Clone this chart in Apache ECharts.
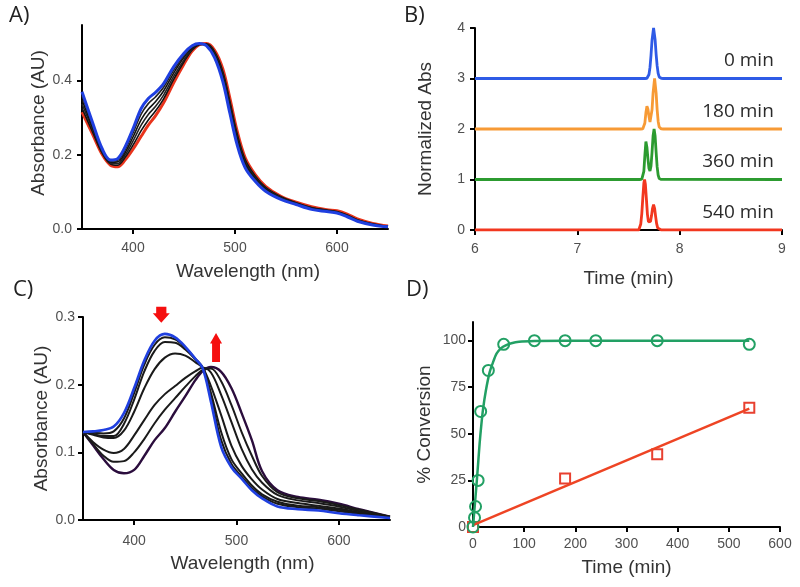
<!DOCTYPE html>
<html><head><meta charset="utf-8">
<script src="https://cdn.jsdelivr.net/npm/echarts@6/dist/echarts.min.js"></script>
<style>html,body{margin:0;padding:0;background:#fff}#c{width:800px;height:587px}</style>
</head><body><div id="c"></div>
<script>
// ---------- Panel A: UV-vis spectra (wavelength, absorbance) ----------
const wlA = [350,360,370,378,385,392,400,408,415,422,430,440,450,458,465,472,480,488,495,502,510,520,530,545,560,575,590,600,610,620,635,650];
const absA_red  = [0.315,0.258,0.200,0.172,0.168,0.185,0.215,0.250,0.280,0.305,0.340,0.395,0.445,0.480,0.497,0.500,0.482,0.432,0.352,0.265,0.192,0.146,0.115,0.088,0.072,0.060,0.052,0.049,0.040,0.027,0.015,0.008];
const absA_k4   = [0.326,0.264,0.203,0.175,0.172,0.192,0.226,0.265,0.294,0.318,0.351,0.404,0.451,0.483,0.497,0.499,0.478,0.425,0.344,0.258,0.187,0.142,0.112,0.087,0.071,0.058,0.051,0.047,0.038,0.025,0.014,0.007];
const absA_k3   = [0.337,0.271,0.206,0.177,0.176,0.198,0.237,0.280,0.309,0.330,0.361,0.412,0.456,0.485,0.498,0.497,0.474,0.419,0.336,0.250,0.181,0.139,0.110,0.085,0.069,0.057,0.050,0.046,0.037,0.024,0.013,0.007];
const absA_k2   = [0.348,0.277,0.209,0.180,0.181,0.205,0.248,0.295,0.323,0.343,0.372,0.421,0.463,0.488,0.498,0.496,0.470,0.412,0.328,0.243,0.176,0.135,0.107,0.083,0.068,0.056,0.049,0.045,0.035,0.023,0.012,0.007];
const absA_k1   = [0.359,0.283,0.212,0.183,0.185,0.212,0.259,0.310,0.338,0.356,0.382,0.429,0.468,0.491,0.499,0.495,0.466,0.405,0.320,0.235,0.170,0.132,0.105,0.082,0.067,0.054,0.048,0.044,0.034,0.022,0.012,0.006];
const absA_blue = [0.370,0.290,0.215,0.186,0.190,0.220,0.270,0.325,0.352,0.368,0.392,0.438,0.474,0.494,0.500,0.494,0.462,0.398,0.312,0.228,0.165,0.128,0.102,0.080,0.066,0.053,0.047,0.043,0.033,0.021,0.011,0.006];
const ticksA_x = [400,500,600];
const ticksA_y = [0,0.2,0.4];

// ---------- Panel B: chromatograms (time, normalized abs, offset per trace) ----------
const chromLabels = ['0 min','180 min','360 min','540 min'];
const chromOffsets = [3,2,1,0];
const chrom0 = [[6,3],[7.66,3],[7.68,3.005],[7.70,3.08],[7.71,3.22],[7.72,3.46],[7.73,3.76],[7.745,4.0],[7.76,3.77],[7.77,3.48],[7.78,3.25],[7.79,3.10],[7.80,3.03],[7.82,3.005],[7.84,3],[9,3]];
const chrom180 = [[6,2],[7.62,2],[7.64,2.005],[7.65,2.04],[7.66,2.12],[7.67,2.32],[7.68,2.45],[7.69,2.39],[7.70,2.25],[7.71,2.14],[7.72,2.17],[7.73,2.38],[7.74,2.71],[7.755,3.0],[7.77,2.71],[7.78,2.38],[7.79,2.15],[7.80,2.04],[7.82,2.003],[7.84,2],[9,2]];
const chrom360 = [[6,1],[7.61,1],[7.63,1.006],[7.64,1.04],[7.65,1.16],[7.66,1.48],[7.67,1.75],[7.68,1.64],[7.69,1.41],[7.70,1.22],[7.71,1.17],[7.72,1.27],[7.73,1.54],[7.74,1.86],[7.75,2.0],[7.76,1.86],[7.77,1.54],[7.78,1.25],[7.79,1.085],[7.80,1.02],[7.82,1.001],[9,1]];
const chrom540 = [[6,0],[7.60,0],[7.61,0.03],[7.62,0.12],[7.63,0.325],[7.64,0.64],[7.65,0.93],[7.657,1.0],[7.665,0.905],[7.675,0.61],[7.685,0.31],[7.695,0.16],[7.705,0.13],[7.715,0.17],[7.725,0.28],[7.735,0.43],[7.745,0.5],[7.755,0.43],[7.765,0.27],[7.775,0.125],[7.785,0.042],[7.80,0.005],[7.82,0],[9,0]];

// ---------- Panel C: spectra (wavelength, absorbance) ----------
const wlC = [350,360,370,380,390,400,410,420,430,440,450,460,467,475,485,495,505,515,525,540,560,580,600,620,650];
const absC_blue = [0.130,0.131,0.133,0.138,0.158,0.195,0.236,0.265,0.275,0.270,0.256,0.238,0.224,0.175,0.108,0.078,0.061,0.044,0.032,0.020,0.016,0.014,0.010,0.007,0.003];
const absC_1 = [0.130,0.129,0.128,0.131,0.150,0.188,0.230,0.259,0.270,0.267,0.255,0.238,0.225,0.182,0.118,0.083,0.064,0.047,0.035,0.024,0.019,0.017,0.013,0.009,0.003];
const absC_2 = [0.130,0.127,0.124,0.124,0.142,0.178,0.220,0.250,0.263,0.262,0.252,0.237,0.225,0.188,0.130,0.090,0.069,0.051,0.038,0.027,0.021,0.019,0.015,0.010,0.004];
const absC_3 = [0.130,0.126,0.122,0.121,0.132,0.160,0.195,0.223,0.240,0.246,0.243,0.233,0.225,0.198,0.155,0.110,0.080,0.060,0.045,0.031,0.025,0.021,0.017,0.011,0.004];
const absC_4 = [0.130,0.115,0.104,0.099,0.105,0.125,0.148,0.170,0.186,0.198,0.210,0.220,0.225,0.218,0.185,0.145,0.105,0.075,0.055,0.037,0.029,0.025,0.020,0.013,0.005];
const absC_5 = [0.130,0.112,0.095,0.086,0.087,0.100,0.120,0.143,0.163,0.180,0.197,0.213,0.222,0.224,0.205,0.170,0.130,0.095,0.065,0.041,0.032,0.028,0.022,0.015,0.005];
const absC_end = [0.130,0.110,0.090,0.074,0.069,0.074,0.095,0.118,0.136,0.160,0.183,0.207,0.220,0.226,0.219,0.195,0.158,0.118,0.072,0.044,0.034,0.030,0.024,0.016,0.005];

// ---------- Panel D: % conversion vs time ----------
const timeCat = [0,3,5,10,15,30,60,120,180,240,360,540];
const convCat = [0,5,11,25,62,84,98,100,100,100,100,98];
const fitCatT = [0,3,6.5,10,13,16,19.5,25,32.5,40,46,55,64,75,90,120,180,300,540];
const fitCatY = [0,10,21.5,34,45,54,63,73,83,89,93,96,97.5,98.6,99.4,99.8,100,100,100];
const timeUn = [0,180,360,540];
const convUn = [0,26,39,64];
const fitUnT = [0,540];
const fitUnY = [1,63.5];
const ticksD_y = [0,25,50,75,100];

const zip = (xs, ys) => xs.map((x, i) => [x, ys[i]]);
const LBL = {color:'#505050', fontSize:14, fontFamily:'Liberation Sans'};
const NAME = {color:'#333', fontSize:19, fontFamily:'Liberation Sans'};
function axis(gi, o) {
  return {
    type:'value', gridIndex:gi, min:o.min, max:o.max, interval:o.interval,
    name:o.name, nameLocation:'middle', nameGap:o.gap,
    nameTextStyle:Object.assign({}, NAME, o.namePad ? {padding:o.namePad} : {}),
    axisLine:{show:true, onZero:false, lineStyle:{color:'#000', width:2}},
    axisTick:{show:true, length:5, lineStyle:{color:'#000', width:2}, customValues:o.custom},
    axisLabel:Object.assign({}, LBL, {margin:o.margin, customValues:o.custom, formatter:o.fmt}),
    splitLine:{show:false}
  };
}
const f1 = v => v.toFixed(1);

const grid = [
  {left:82, top:25, width:306, height:204},
  {left:475, top:28, width:307, height:202},
  {left:83, top:317, width:307, height:203},
  {left:473, top:322, width:307, height:205}
];

const xAxis = [
  axis(0,{min:350,max:650,custom:ticksA_x,name:'Wavelength (nm)',gap:33,margin:12,namePad:[0,0,0,26]}),
  axis(1,{min:6,max:9,interval:1,name:'Time (min)',gap:39,margin:12}),
  axis(2,{min:350,max:650,custom:ticksA_x,name:'Wavelength (nm)',gap:34,margin:14,namePad:[0,0,0,12]}),
  axis(3,{min:0,max:600,interval:100,name:'Time (min)',gap:31,margin:10})
];
const yAxis = [
  axis(0,{min:0,max:0.55,custom:ticksA_y,name:'Absorbance (AU)',gap:30,margin:10,fmt:f1,namePad:[0,0,0,8]}),
  axis(1,{min:0,max:4,interval:1,name:'Normalized Abs',gap:40,margin:10}),
  axis(2,{min:0,max:0.3,interval:0.1,name:'Absorbance (AU)',gap:32,margin:8,fmt:f1}),
  axis(3,{min:0,max:110,custom:ticksD_y,name:'% Conversion',gap:39,margin:7})
];

function line(gi, data, color, width, smooth) {
  return {type:'line', xAxisIndex:gi, yAxisIndex:gi, data, showSymbol:false, symbol:'none',
    smooth: smooth || false, lineStyle:{color, width}, silent:true, animation:false};
}

const series = [];
// Panel A
series.push(line(0, zip(wlA, absA_red), '#e8341c', 3, 0.35));
[absA_k4, absA_k3, absA_k2, absA_k1].forEach((a, i) =>
  series.push(line(0, zip(wlA, a), i % 2 ? '#222' : '#111', 1.6, 0.35)));
series.push(line(0, zip(wlA, absA_blue), '#1f3fe0', 3, 0.35));
// Panel B
series.push(line(1, chrom540, '#f2371f', 2.8));
series.push(line(1, chrom360, '#2c9b30', 2.8));
series.push(line(1, chrom180, '#f79a35', 2.8));
series.push(line(1, chrom0, '#2f5be6', 2.8));
series.push({type:'scatter', xAxisIndex:1, yAxisIndex:1, symbolSize:0, silent:true, animation:false,
  itemStyle:{opacity:1},
  data: chromOffsets.map((b, i) => ({value:[8.92, b + 0.35], name:chromLabels[i]})),
  label:{show:true, position:'left', distance:0, formatter:p => p.name,
    color:'#2a2a2a', fontSize:19, fontFamily:'Open Sans'}});
// Panel C
series.push(line(2, zip(wlC, absC_end), '#2b0d3d', 2.4, 0.35));
[absC_5, absC_4, absC_3, absC_2, absC_1].forEach(a =>
  series.push(line(2, zip(wlC, a), '#1a1a1a', 2, 0.35)));
series.push(line(2, zip(wlC, absC_blue), '#2040e0', 2.6, 0.35));
// red arrows (annotations)
series.push({type:'scatter', xAxisIndex:2, yAxisIndex:2, clip:false, silent:true, animation:false,
  itemStyle:{color:'#f50f0f', opacity:1},
  data:[
    {value:[426.5, 0.3035], symbol:'path://M20,0 L80,0 L80,42 L100,42 L50,100 L0,42 L20,42 Z', symbolSize:[17,16]},
    {value:[480, 0.255], symbol:'path://M50,0 L100,36 L83,36 L83,100 L17,100 L17,36 L0,36 Z', symbolSize:[12,29]}
  ]});
// Panel D
series.push(line(3, zip(fitUnT, fitUnY), '#ee4424', 2.5));
series.push(line(3, zip(fitCatT, fitCatY), '#22a064', 2.5, 0.3));
series.push({type:'scatter', xAxisIndex:3, yAxisIndex:3, clip:false, silent:true, animation:false,
  data: zip(timeUn, convUn), symbol:'rect', symbolSize:10,
  itemStyle:{color:'#fff', borderColor:'#e84030', borderWidth:2, opacity:1}});
series.push({type:'scatter', xAxisIndex:3, yAxisIndex:3, clip:false, silent:true, animation:false,
  data: zip(timeCat, convCat), symbol:'circle', symbolSize:11,
  itemStyle:{color:'rgba(255,255,255,0)', borderColor:'#22a064', borderWidth:2, opacity:1}});

const letter = (t, x, y) => ({type:'text', left:x, top:y,
  style:{text:t, fill:'#222', font:'22px "Open Sans"'}});

const chart = echarts.init(document.getElementById('c'), null, {renderer:'canvas'});
chart.setOption({
  animation:false, backgroundColor:'#fff',
  grid, xAxis, yAxis, series,
  graphic:[letter('A)', 9, 5), letter('B)', 404, 5), letter('C)', 13, 279), letter('D)', 406, 279)]
});
</script></body></html>
